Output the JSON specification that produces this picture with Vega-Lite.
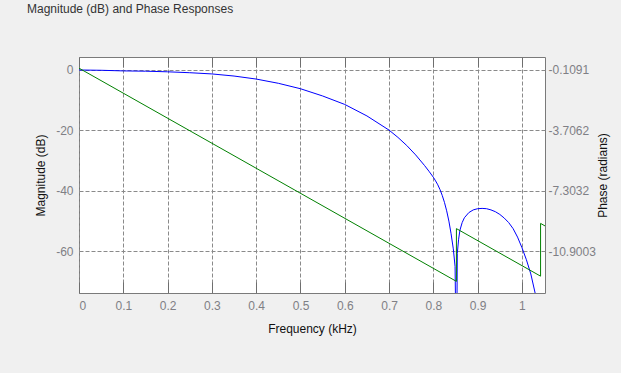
{
  "$schema": "https://vega.github.io/schema/vega-lite/v6.json",
  "width": 466,
  "height": 236,
  "autosize": {"type": "none"},
  "padding": {"left": 79, "top": 57, "right": 76, "bottom": 80},
  "background": "#f0f0f0",
  "title": {
    "text": "Magnitude (dB) and Phase Responses",
    "anchor": "start",
    "frame": "group",
    "dx": -52,
    "offset": 32,
    "baseline": "alphabetic",
    "font": "Liberation Sans",
    "fontSize": 12,
    "fontWeight": "normal",
    "color": "#333333"
  },
  "config": {
    "view": {"fill": "white", "stroke": "#7a7a7a", "strokeWidth": 1},
    "axis": {
      "labelFont": "Liberation Sans",
      "labelFontSize": 12,
      "labelColor": "#7f7f85",
      "labelExpr": "replace(datum.label, '\u2212', '-')",
      "titleFont": "Liberation Sans",
      "titleFontSize": 12,
      "titleFontWeight": "normal",
      "titleColor": "#111111",
      "domain": false,
      "tickColor": "#6e6e6e",
      "gridColor": "#8a8a8a",
      "gridDash": [4, 2],
      "gridWidth": 1
    }
  },
  "datasets": {
    "mag": [
      {"f": 0, "db": 0},
      {"f": 0.05, "db": -0.1},
      {"f": 0.1, "db": -0.3},
      {"f": 0.15, "db": -0.4},
      {"f": 0.2, "db": -0.6},
      {"f": 0.25, "db": -0.9},
      {"f": 0.3, "db": -1.3},
      {"f": 0.35, "db": -2.0},
      {"f": 0.4, "db": -3.0},
      {"f": 0.45, "db": -4.4},
      {"f": 0.5, "db": -6.2},
      {"f": 0.55, "db": -8.6},
      {"f": 0.6, "db": -11.4},
      {"f": 0.65, "db": -15.2},
      {"f": 0.7, "db": -19.9},
      {"f": 0.72, "db": -22.3},
      {"f": 0.74, "db": -25.0},
      {"f": 0.76, "db": -28.1},
      {"f": 0.78, "db": -31.6},
      {"f": 0.79, "db": -33.5},
      {"f": 0.8, "db": -35.5},
      {"f": 0.805, "db": -36.7},
      {"f": 0.81, "db": -38.0},
      {"f": 0.815, "db": -39.6},
      {"f": 0.82, "db": -41.5},
      {"f": 0.825, "db": -43.8},
      {"f": 0.83, "db": -46.6},
      {"f": 0.835, "db": -50.0},
      {"f": 0.84, "db": -54.2},
      {"f": 0.845, "db": -59.2},
      {"f": 0.849, "db": -65},
      {"f": 0.8515, "db": -95},
      {"f": 0.8525, "db": -95},
      {"f": 0.854, "db": -60.7},
      {"f": 0.857, "db": -56},
      {"f": 0.86, "db": -53},
      {"f": 0.865, "db": -50.5},
      {"f": 0.87, "db": -48.9},
      {"f": 0.88, "db": -47.2},
      {"f": 0.89, "db": -46.3},
      {"f": 0.9, "db": -45.9},
      {"f": 0.91, "db": -45.8},
      {"f": 0.92, "db": -45.9},
      {"f": 0.93, "db": -46.3},
      {"f": 0.94, "db": -46.9},
      {"f": 0.95, "db": -47.8},
      {"f": 0.96, "db": -49.0},
      {"f": 0.97, "db": -50.5},
      {"f": 0.98, "db": -52.5},
      {"f": 0.99, "db": -55.3},
      {"f": 1.0, "db": -58.8},
      {"f": 1.01, "db": -62.8},
      {"f": 1.02, "db": -67.5},
      {"f": 1.03, "db": -74},
      {"f": 1.04, "db": -85}
    ],
    "phase": [
      {"f": 0, "ph": 0},
      {"f": 0.852, "ph": -12.69},
      {"f": 0.852, "ph": -9.55},
      {"f": 1.042, "ph": -12.38},
      {"f": 1.042, "ph": -9.24},
      {"f": 1.052, "ph": -9.39}
    ]
  },
  "layer": [
    {
      "data": {"name": "mag"},
      "mark": {"type": "line", "color": "#0000ff", "strokeWidth": 1, "clip": true},
      "encoding": {
        "x": {
          "field": "f",
          "type": "quantitative",
          "scale": {"domain": [0, 1.052], "nice": false, "zero": false},
          "axis": {
            "orient": "bottom",
            "values": [0, 0.1, 0.2, 0.3, 0.4, 0.5, 0.6, 0.7, 0.8, 0.9, 1],
            "format": "~g",
            "title": "Frequency (kHz)",
            "grid": true,
            "ticks": false,
            "labelPadding": 7,
            "titlePadding": 12
          }
        },
        "y": {
          "field": "db",
          "type": "quantitative",
          "scale": {"domain": [-73.8, 4.3], "nice": false, "zero": false},
          "axis": {
            "orient": "left",
            "values": [0, -20, -40, -60],
            "title": "Magnitude (dB)",
            "grid": true,
            "ticks": false,
            "labelPadding": 6,
            "titlePadding": 8
          }
        }
      }
    },
    {
      "data": {"name": "mag"},
      "mark": {"type": "line", "color": "#0000ff", "strokeWidth": 1, "opacity": 0, "clip": true},
      "encoding": {
        "x": {
          "field": "f",
          "type": "quantitative",
          "scale": {"domain": [0, 1.052], "nice": false, "zero": false},
          "axis": {
            "orient": "bottom",
            "offset": -11,
            "values": [0, 0.1, 0.2, 0.3, 0.4, 0.5, 0.6, 0.7, 0.8, 0.9, 1],
            "labels": false,
            "title": null,
            "grid": false,
            "ticks": true,
            "tickSize": 11
          }
        },
        "y": {
          "field": "db",
          "type": "quantitative",
          "scale": {"domain": [-73.8, 4.3], "nice": false, "zero": false},
          "axis": null
        }
      }
    },
    {
      "data": {"name": "phase"},
      "mark": {"type": "line", "color": "#008000", "strokeWidth": 1, "clip": true},
      "encoding": {
        "x": {
          "field": "f",
          "type": "quantitative",
          "sort": null,
          "scale": {"domain": [0, 1.052], "nice": false, "zero": false},
          "axis": {
            "orient": "top",
            "offset": -10,
            "values": [0, 0.1, 0.2, 0.3, 0.4, 0.5, 0.6, 0.7, 0.8, 0.9, 1],
            "labels": false,
            "title": null,
            "grid": false,
            "ticks": true,
            "tickSize": 10
          }
        },
        "y": {
          "field": "ph",
          "type": "quantitative",
          "scale": {"domain": [-13.3824, 0.6643], "nice": false, "zero": false},
          "axis": {
            "orient": "right",
            "values": [-0.1091, -3.7062, -7.3032, -10.9003],
            "format": ".4f",
            "title": "Phase (radians)",
            "titleAngle": 270,
            "grid": false,
            "ticks": false,
            "labelPadding": 3,
            "titlePadding": 14
          }
        }
      }
    }
  ],
  "resolve": {"scale": {"y": "independent"}, "axis": {"x": "independent", "y": "independent"}}
}
